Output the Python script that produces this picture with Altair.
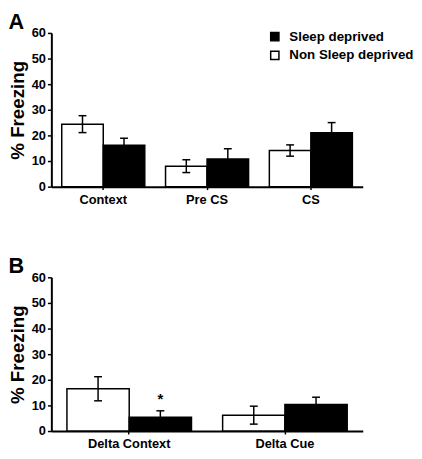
import altair as alt
import pandas as pd

FONT = "Liberation Sans"
groups = ["Non Sleep deprived", "Sleep deprived"]
legend_order = ["Sleep deprived", "Non Sleep deprived"]

cats_a = ["Context", "Pre CS", "CS"]
nsd_a = [24.4, 8.0, 14.1]
nsd_a_err = [3.3, 2.5, 2.2]
sd_a = [16.2, 10.8, 21.0]
sd_a_err = [2.7, 4.0, 4.0]

cats_b = ["Delta Context", "Delta Cue"]
nsd_b = [16.5, 6.2]
nsd_b_err = [4.7, 3.5]
sd_b = [5.4, 10.4]
sd_b_err = [2.5, 2.8]
sig_b = ["*", ""]  # significance mark for the sleep-deprived bar


def make_df(cats, nsd, nsd_err, sd, sd_err, sig=None):
    rows = []
    for i, c in enumerate(cats):
        rows.append(dict(cat=c, group="Non Sleep deprived", value=nsd[i],
                         lo=nsd[i] - nsd_err[i], hi=nsd[i] + nsd_err[i], sig=""))
        rows.append(dict(cat=c, group="Sleep deprived", value=sd[i],
                         lo=sd[i] - sd_err[i], hi=sd[i] + sd_err[i],
                         sig=(sig[i] if sig else "")))
    return pd.DataFrame(rows)


def panel(df, cats, letter, show_legend):
    x = alt.X("cat:N", sort=cats,
              scale=alt.Scale(paddingInner=0.2, paddingOuter=0.1),
              axis=alt.Axis(title=None, labelAngle=0, labelFont=FONT, labelFontSize=13,
                            labelFontWeight="bold", labelColor="black", domainColor="black",
                            domainWidth=2, tickColor="black", tickSize=3, tickWidth=1.5,
                            labelPadding=4))
    xo = alt.XOffset("group:N", sort=groups)
    yaxis = alt.Axis(values=[0, 10, 20, 30, 40, 50, 60], title="% Freezing", grid=False,
                     titleFont=FONT, titleFontSize=19, titleFontWeight="bold", titleColor="black",
                     titlePadding=4,
                     labelFont=FONT, labelFontSize=13, labelFontWeight="bold", labelColor="black",
                     domainColor="black", domainWidth=2, tickColor="black", tickSize=4,
                     tickWidth=1.5, labelPadding=2)
    yscale = alt.Scale(domain=[0, 60], nice=False)
    if show_legend:
        leg = alt.Legend(title=None, orient="none", legendX=220, legendY=-3,
                         symbolType="square", symbolSize=70, symbolStrokeColor="black",
                         symbolStrokeWidth=1.5, labelFont=FONT, labelFontSize=13.5,
                         labelFontWeight="bold", labelColor="black", rowPadding=4,
                         labelOffset=8, padding=0)
    else:
        leg = None
    fill = alt.Fill("group:N", scale=alt.Scale(domain=legend_order, range=["black", "white"]),
                    legend=leg)
    base = alt.Chart(df)
    bars = base.mark_bar(stroke="black", strokeWidth=1.5).encode(
        x=x, xOffset=xo, y=alt.Y("value:Q", scale=yscale, axis=yaxis), fill=fill)
    rule = base.mark_rule(color="black", strokeWidth=1.5).encode(
        x=x, xOffset=xo, y=alt.Y("lo:Q", scale=yscale, axis=yaxis), y2="hi:Q")
    cap_hi = base.mark_tick(color="black", size=8, thickness=1.5, opacity=1).encode(
        x=x, xOffset=xo, y=alt.Y("hi:Q", scale=yscale, axis=yaxis))
    cap_lo = base.mark_tick(color="black", size=8, thickness=1.5, opacity=1).encode(
        x=x, xOffset=xo, y=alt.Y("lo:Q", scale=yscale, axis=yaxis))
    star = base.mark_text(font=FONT, fontSize=15, fontWeight="bold", color="black",
                          baseline="middle", dy=-12).encode(
        x=x, xOffset=xo, y=alt.Y("hi:Q", scale=yscale, axis=yaxis), text="sig:N")
    return alt.layer(bars, rule, cap_hi, cap_lo, star).properties(
        width=316, height=156,
        title=alt.TitleParams(letter, anchor="start", frame="bounds", font=FONT, fontSize=22,
                              fontWeight="bold", color="black", offset=-7))


df_a = make_df(cats_a, nsd_a, nsd_a_err, sd_a, sd_a_err)
df_b = make_df(cats_b, nsd_b, nsd_b_err, sd_b, sd_b_err, sig_b)

chart = alt.vconcat(
    panel(df_a, cats_a, "A", True),
    panel(df_b, cats_b, "B", False),
    spacing=50,
).resolve_legend(fill="independent").resolve_scale(
    fill="independent", x="independent", xOffset="independent").configure_view(
    stroke=None).properties(padding=0)

chart.save("out.html", embed_options={"renderer": "svg", "actions": False})
